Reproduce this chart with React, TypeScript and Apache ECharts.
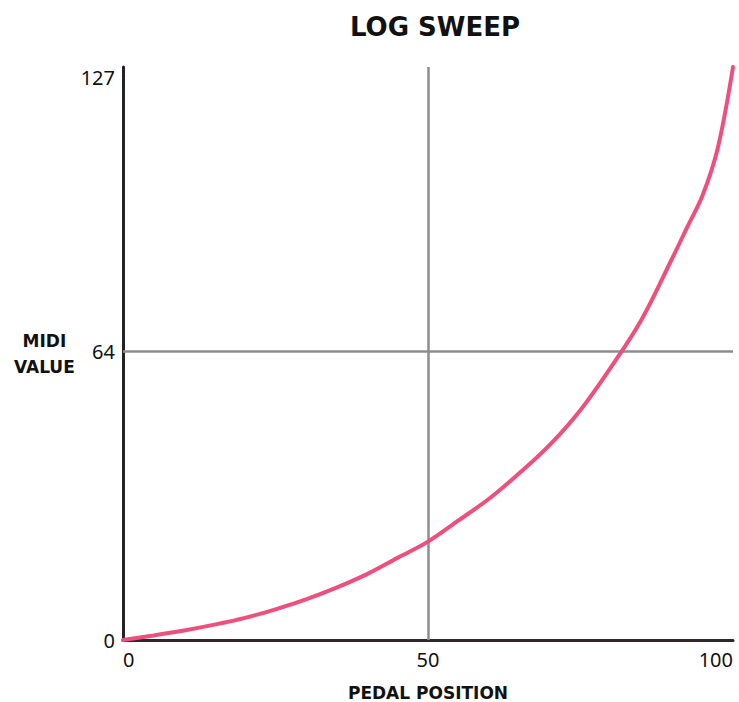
import React, { useEffect, useRef } from "react";
import * as echarts from "echarts";

const titleText = "LOG SWEEP";
const xAxisName = "PEDAL POSITION";
const yAxisName = "MIDI\nVALUE";
const pedalPosition = [0, 5, 10, 15, 20, 25, 30, 35, 40, 45, 50, 55, 60, 65, 70, 75, 80, 85, 90, 92.5, 95, 97.5, 100];
const midiValue = [0, 1.0, 2.1, 3.4, 4.9, 6.8, 9.0, 11.6, 14.6, 18.2, 21.8, 26.5, 31.3, 37, 43.3, 51, 60.5, 71, 84.5, 91.5, 98.5, 109, 127];
const yTickValues = [0, 64, 127];
const guideX = [50];
const guideY = [64];

export default function App() {
  const ref = useRef<HTMLDivElement>(null);
  useEffect(() => {
    if (!ref.current) return;
    const chart = echarts.init(ref.current, null, { renderer: "svg" });
    const axisNameStyle = {
      fontFamily: "DejaVu Sans",
      fontWeight: 700,
      fontSize: 17,
      color: "#111",
      lineHeight: 26,
    };
    chart.setOption({
      animation: false,
      backgroundColor: "#ffffff",
      title: {
        text: titleText,
        left: 430,
        textAlign: "center",
        top: 9,
        textStyle: { fontFamily: "DejaVu Sans", fontWeight: 700, fontSize: 26, color: "#111" },
      },
      grid: { left: 123, right: 6, top: 67, bottom: 62, containLabel: false, outerBoundsMode: "none" },
      xAxis: {
        type: "value",
        min: 0,
        max: 100,
        interval: 50,
        name: xAxisName,
        nameLocation: "middle",
        nameGap: 53,
        nameTextStyle: { ...axisNameStyle, verticalAlign: "middle" },
        axisLine: { show: true, lineStyle: { color: "#2e282c", width: 3 } },
        axisTick: { show: false },
        splitLine: { show: false },
        axisLabel: {
          fontFamily: "Noto Sans",
          fontSize: 20,
          color: "#111",
          margin: 9,
          alignMinLabel: "left",
          alignMaxLabel: "right",
        },
      },
      yAxis: {
        type: "value",
        min: 0,
        max: 127,
        name: yAxisName,
        nameLocation: "middle",
        nameRotate: 0,
        nameGap: 76,
        nameTextStyle: { ...axisNameStyle, align: "center", verticalAlign: "middle" },
        axisLine: { show: true, lineStyle: { color: "#222226", width: 3 } },
        axisTick: { show: false },
        splitLine: { show: false },
        axisLabel: {
          fontFamily: "Noto Sans",
          fontSize: 20,
          color: "#111",
          margin: 8,
          customValues: yTickValues,
          verticalAlignMaxLabel: "top",
        },
      },
      series: [
        {
          type: "line",
          data: pedalPosition.map((p, i) => [p, midiValue[i]]),
          smooth: 0.35,
          showSymbol: false,
          lineStyle: { color: "#ef4f7c", width: 4, cap: "round" },
          z: 5,
          markLine: {
            silent: true,
            symbol: "none",
            label: { show: false },
            lineStyle: { color: "#8f8c8f", width: 2.5, type: "solid" },
            data: [
              ...guideX.map((v) => ({ xAxis: v })),
              ...guideY.map((v) => ({ yAxis: v })),
            ],
          },
        },
      ],
    });
    return () => chart.dispose();
  }, []);
  return (
    <div
      ref={ref}
      style={{ position: "fixed", left: 0, top: 0, width: 739, height: 702, background: "#fff" }}
    />
  );
}
